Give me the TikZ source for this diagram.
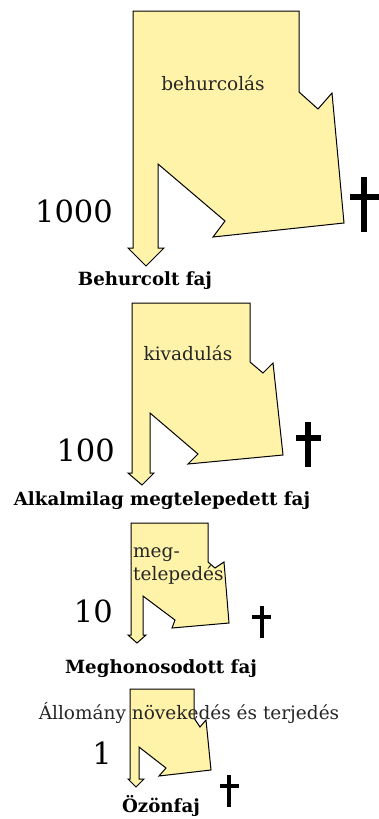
\documentclass[tikz,border=0pt]{standalone}
\usepackage{fontspec}
\setmainfont{DejaVu Serif}
\usepackage{tikz}
\definecolor{flowyellow}{RGB}{255,243,170}
\definecolor{labelgray}{RGB}{38,38,38}

\begin{document}
\begin{tikzpicture}[x=1pt,y=-1pt,
    flow/.style ={draw, line width=1pt, fill=flowyellow},
    count/.style ={anchor=east, inner sep=0pt, font=\fontsize{30.5}{32}\selectfont},
    stage/.style ={inner sep=0pt, font=\fontsize{18.2}{20}\selectfont\bfseries},
    process/.style ={inner sep=0pt, text=labelgray, font=\fontsize{18.5}{23}\selectfont},
    death/.style ={line width=5pt}]
   \useasboundingbox (0,0) rectangle (379,819);
   % first step
   \draw[flow] (133,11) -- (299,11) -- (299,92) -- (318,109) -- (332,93) -- (344,223)
      -- (213,237) -- (225,221) -- (158,164) -- (158,248) -- (164,248) -- (146,266)
      -- (128,248) -- (133,248) -- cycle;
   \node[process] (P1) at (213,83) {behurcolás};
   \node[count] (N1) at (113,211) {1000};
   \draw[death, line width=6.5pt] (364,177) -- (364,232) (350,197) -- (379,197);
   \node[stage] (S1) at (145,281) {Behurcolt faj};
   % second step
   \draw[flow] (132,303) -- (250,303) -- (250,362) -- (263,373) -- (273,363) -- (283,455)
      -- (188,464) -- (198,454) -- (150,413) -- (150,473) -- (154,473) -- (142,485)
      -- (128,473) -- (132,473) -- cycle;
   \node[process] (P2) at (188,353) {kivadulás};
   \node[count] (N2) at (115,450) {100};
   \draw[death, line width=5.5pt] (308,422) -- (308,467) (296,438) -- (321,438);
   \node[stage] (S2) at (162,501) {Alkalmilag megtelepedett faj};
   % third step
   \draw[flow] (131,523) -- (208,523) -- (208,562) -- (215,568) -- (224,562) -- (229,623)
      -- (172,628) -- (175,620) -- (143,596) -- (143,635) -- (146,635) -- (137,643)
      -- (128,635) -- (131,635) -- cycle;
   \node[process, align=left, anchor=north west] (P3) at (133,547) {meg-\\telepedés};
   \node[count] (N3) at (113,611) {10};
   \draw[death, line width=4.5pt] (262,606) -- (262,638) (252,617) -- (271,617);
   \node[stage] (S3) at (161,669) {Meghonosodott faj};
   % fourth step
   \draw[flow] (130,689) -- (194,689) -- (194,718) -- (200,727) -- (206,720) -- (211,770)
      -- (159,776) -- (166,768) -- (139,747) -- (139,779) -- (144,779) -- (136,787)
      -- (128,779) -- (130,779) -- cycle;
   \node[process] (P4) at (189,713) {Állomány növekedés és terjedés};
   \node[count] (N4) at (112,753) {1};
   \draw[death, line width=4.5pt] (229,775) -- (229,807) (220,786) -- (239,786);
   \node[stage] (S4) at (161,806) {Özönfaj};
 \end{tikzpicture}
\end{document}
